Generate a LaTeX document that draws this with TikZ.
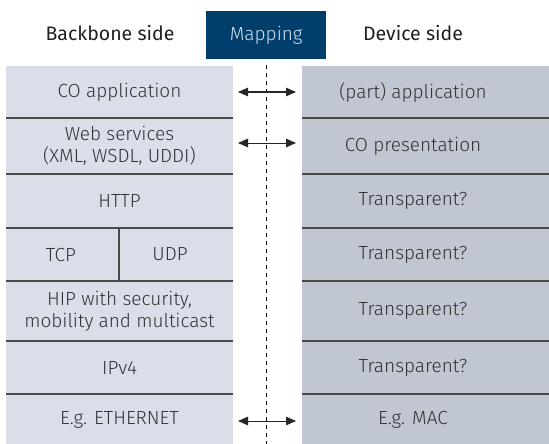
\documentclass[tikz,border=0pt]{standalone}
\usepackage{fontspec}
\setmainfont{Fira Sans}[UprightFont=* Light, BoldFont=*]
\usetikzlibrary{arrows.meta}
\definecolor{backfill}{HTML}{D9DEE8}
\definecolor{devfill}{HTML}{C0C6D2}
\definecolor{navy}{HTML}{003F6B}
\definecolor{maptext}{HTML}{CFE0EF}
\definecolor{rule}{HTML}{4A4A4A}
\definecolor{ink}{HTML}{333333}
\begin{document}
\begin{tikzpicture}[x=1pt,y=-1pt,
  lbl/.style={text=ink,font=\fontsize{19}{22}\selectfont,align=center,inner sep=0pt},
  head/.style={text=black!88,font=\bfseries\fontsize{19.5}{22}\selectfont,inner sep=0pt},
  sep/.style={draw=rule,line width=1.2pt},
  map/.style={arrows={Triangle[length=10pt,width=8.5pt]-Triangle[length=10pt,width=8.5pt]},line width=1pt,draw=black!85}]
\useasboundingbox (0,0) rectangle (549,444);
% columns
\fill[backfill] (6,66) rectangle (233,444);
\fill[devfill] (302,66) rectangle (549,444);
% mapping box and dashed axis
\node[fill=navy,minimum width=120pt,minimum height=48pt,inner sep=0pt,anchor=north west,
  text=maptext,font=\fontsize{19}{22}\selectfont] (mapbox) at (206,11) {Mapping};
\coordinate (axtop) at (266,65);
\coordinate (axbot) at (266,444);
\draw[black,line width=0.9pt,dash pattern=on 4pt off 4pt] (axtop) -- (axbot);
% headers
\node[head] (hback) at (110,33) {Backbone side};
\node[head] (hdev) at (413,33) {Device side};
% row separators
\foreach \y in {118,174,228,281,341,394}{
  \draw[sep] (6,\y) -- (233,\y);
  \draw[sep] (302,\y) -- (549,\y);
}
\draw[sep] (119,228) -- (119,281);
% backbone stack
\node[lbl] (b1) at (119.5,92) {CO application};
\node[lbl] (b2) at (119.5,146) {Web services\\(XML, WSDL, UDDI)};
\node[lbl] (b3) at (119.5,201) {HTTP};
\node[lbl] (b4a) at (61,254.5) {TCP};
\node[lbl] (b4b) at (170,254.5) {UDP};
\node[lbl] (b5) at (119.5,311) {HIP with security,\\mobility and multicast};
\node[lbl] (b6) at (119.5,367.5) {IPv4};
\node[lbl] (b7) at (119.5,420) {E.g. ETHERNET};
% device stack
\node[lbl] (d1) at (413,92) {(part) application};
\node[lbl] (d2) at (413,146) {CO presentation};
\node[lbl] (d3) at (413,201) {Transparent?};
\node[lbl] (d4) at (413,254.5) {Transparent?};
\node[lbl] (d5) at (413,311) {Transparent?};
\node[lbl] (d6) at (413,367.5) {Transparent?};
\node[lbl] (d7) at (413,420) {E.g. MAC};
% mapping arrows between the two sides
\coordinate (l1) at (238,92);  \coordinate (r1) at (296,92);
\coordinate (l2) at (238,143); \coordinate (r2) at (296,143);
\coordinate (l7) at (238,421); \coordinate (r7) at (296,421);
\draw[map] (l1) -- (r1);
\draw[map] (l2) -- (r2);
\draw[map] (l7) -- (r7);
\end{tikzpicture}
\end{document}
